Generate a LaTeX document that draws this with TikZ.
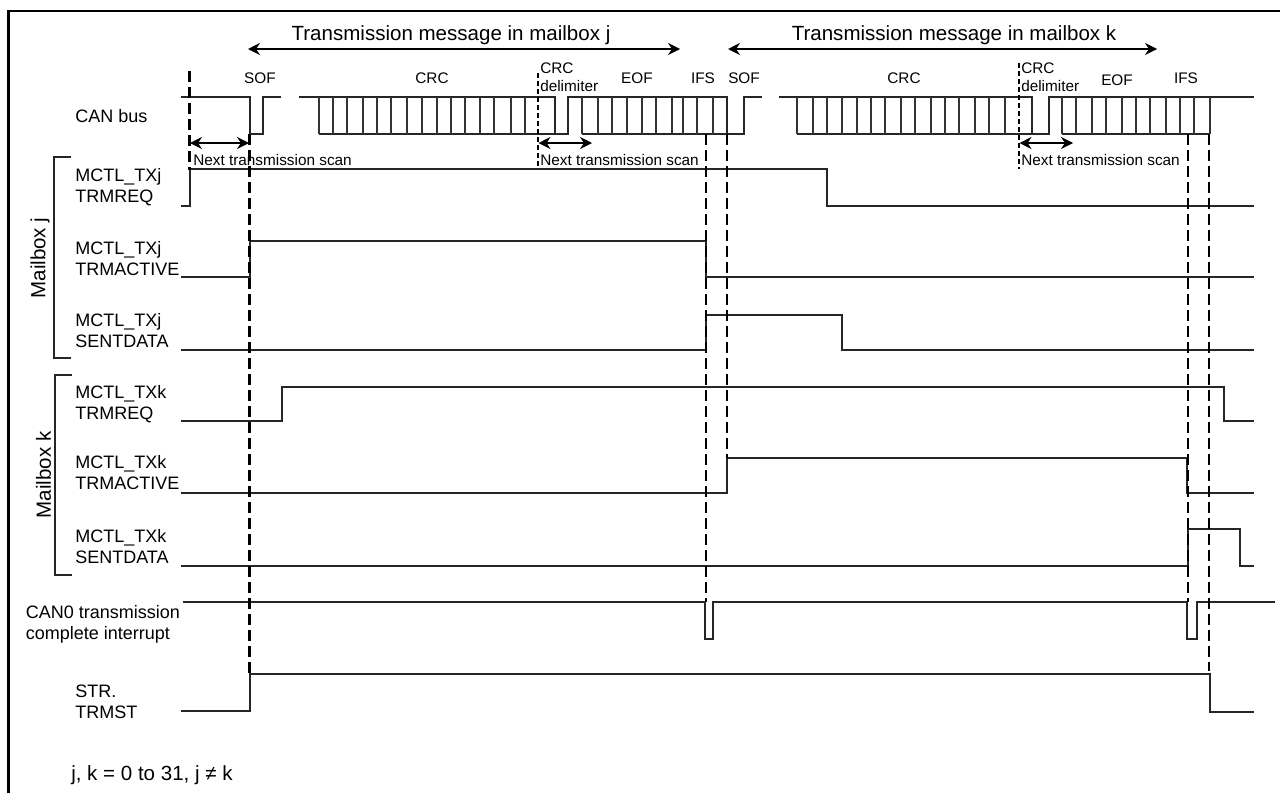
\documentclass[tikz,border=0pt]{standalone}
\usepackage{fontspec}
\setmainfont{Liberation Sans}
\usetikzlibrary{arrows.meta}
\tikzset{
  sig/.style={line width=1pt,black!85,line join=miter},
  tick/.style={line width=0.9pt,black!80},
  guide/.style={line width=1.8pt,black,dash pattern=on 8.2pt off 3.8pt},
  thinguide/.style={line width=0.8pt,black,dash pattern=on 4pt off 2pt},
  span/.style={line width=0.9pt,black,{Stealth[length=9pt,width=9pt]}-{Stealth[length=9pt,width=9pt]}},
  lab/.style={font=\fontsize{13.5pt}{15.75pt}\selectfont,align=left,anchor=west,inner sep=0pt},
  small/.style={font=\fontsize{11.5pt}{13.4pt}\selectfont,anchor=center,inner sep=0pt},
  head/.style={font=\fontsize{15.4pt}{18pt}\selectfont,anchor=center,inner sep=0pt},
  big/.style={font=\fontsize{15.4pt}{18pt}\selectfont,anchor=west,inner sep=0pt},
  frameline/.style={line width=2.1pt,black},
  bracket/.style={line width=0.9pt,black!85}
}
\begin{document}
\begin{tikzpicture}[x=0.75pt,y=-0.75pt]
\useasboundingbox (0,0) rectangle (1280,793);
\fill[white] (0,0) rectangle (1280,793);
\draw[frameline] (8.7,793) -- (8.7,11) -- (1280,11);

% span arrows
\coordinate (ta1) at (248,49); \coordinate (tb1) at (680,49);
\coordinate (ta2) at (728,49); \coordinate (tb2) at (1157,49);
\draw[span] (ta1) -- (tb1);
\draw[span] (ta2) -- (tb2);
\node[head] (hj) at (451,35) {Transmission message in mailbox j};
\node[head] (hk) at (954,35) {Transmission message in mailbox k};

% CAN bus
\draw[sig] (181,97) -- (250,97) -- (250,134) -- (263,134) -- (263,97) -- (281,97);
\draw[sig] (299,97) -- (555,97) -- (555,134) -- (568,134) -- (568,97) -- (727,97) -- (727,134) -- (744,134) -- (744,97) -- (762,97);
\draw[sig] (779,97) -- (1032,97) -- (1032,134) -- (1049,134) -- (1049,97) -- (1254,97);
\draw[sig] (319,134) -- (555,134);
\draw[sig] (582,134) -- (727,134);
\draw[sig] (797,134) -- (1032,134);
\draw[sig] (1062,134) -- (1210,134);
\foreach \x in {319,333,347,363,377,391,407,422,437,451,465,480,494,511,525,582,598,612,627,642,656,672,683,697,713,797,813,827,842,857,871,885,901,915,931,945,959,975,989,1005,1062,1076,1092,1106,1122,1136,1150,1166,1180,1194,1210}
  \draw[tick] (\x,97) -- (\x,134);

% signals
\draw[sig] (181,206) -- (190,206) -- (190,169) -- (827,169) -- (827,206) -- (1254,206);
\draw[sig] (181,277) -- (250,277) -- (250,241) -- (706,241) -- (706,277) -- (1254,277);
\draw[sig] (181,350) -- (706,350) -- (706,315) -- (842,315) -- (842,350) -- (1254,350);
\draw[sig] (181,421) -- (282,421) -- (282,387) -- (1224,387) -- (1224,421) -- (1254,421);
\draw[sig] (181,493) -- (727,493) -- (727,458) -- (1187,458) -- (1187,493) -- (1254,493);
\draw[sig] (181,566) -- (1188,566) -- (1188,529) -- (1240,529) -- (1240,566) -- (1254,566);
\draw[sig] (183,602) -- (705,602) -- (705,639) -- (713,639) -- (713,602) -- (1187,602) -- (1187,639) -- (1197,639) -- (1197,602) -- (1275,602);
\draw[sig] (181,711) -- (250,711) -- (250,674) -- (1210,674) -- (1210,712) -- (1254,712);

% guides
\draw[guide] (189.5,71) -- (189.5,170);
\draw[guide] (249.5,134) -- (249.5,673);
\draw[guide] (706,134) -- (706,602);
\draw[guide] (727,134) -- (727,458);
\draw[guide] (1188,134) -- (1188,602);
\draw[guide] (1209,134) -- (1209,671);
\draw[thinguide] (538,73) -- (538,169);
\draw[thinguide] (1019,63) -- (1019,169);

% scan arrows
\coordinate (sa1) at (190,143); \coordinate (sb1) at (249,143);
\coordinate (sa2) at (538.5,143); \coordinate (sb2) at (592,143);
\coordinate (sa3) at (1019.5,143); \coordinate (sb3) at (1073,143);
\draw[span] (sa1) -- (sb1);
\draw[span] (sa2) -- (sb2);
\draw[span] (sa3) -- (sb3);
\node[small,anchor=west] (n1) at (193,160) {Next transmission scan};
\node[small,anchor=west] (n2) at (540,160) {Next transmission scan};
\node[small,anchor=west] (n3) at (1021,160) {Next transmission scan};

% field labels
\node[small] (s1) at (260,78) {SOF};
\node[small] (c1) at (432,78) {CRC};
\node[small] (e1) at (637,78) {EOF};
\node[small] (i1) at (703,78) {IFS};
\node[small] (s2) at (744,78) {SOF};
\node[small] (c2) at (904,78) {CRC};
\node[small] (e2) at (1117,80) {EOF};
\node[small] (i2) at (1186,78) {IFS};
\node[small,anchor=west,align=left] (d1) at (540,77) {CRC\\delimiter};
\node[small,anchor=west,align=left] (d2) at (1021,77) {CRC\\delimiter};

% signal labels
\node[lab] (l0) at (75,116) {CAN bus};
\node[lab] (l1) at (75,187.2) {MCTL\_TXj\\TRMREQ};
\node[lab] (l2) at (75,258.2) {MCTL\_TXj\\TRMACTIVE};
\node[lab] (l3) at (75,330.7) {MCTL\_TXj\\SENTDATA};
\node[lab] (l4) at (75,404.2) {MCTL\_TXk\\TRMREQ};
\node[lab] (l5) at (75,472.2) {MCTL\_TXk\\TRMACTIVE};
\node[lab] (l6) at (75,546.2) {MCTL\_TXk\\SENTDATA};
\node[lab] (l7) at (25.5,624.7) {CAN0 transmission\\complete interrupt};
\node[lab] (l8) at (75,702.2) {STR.\\TRMST};
\node[big] (fn) at (71,775) {j, k = 0 to 31, j ≠ k};

% mailbox brackets
\draw[bracket] (71,157) -- (54,157) -- (54,358) -- (71,358);
\draw[bracket] (72,375) -- (55,375) -- (55,575) -- (72,575);
\node[big,anchor=center,rotate=90] (mj) at (40,258) {Mailbox j};
\node[big,anchor=center,rotate=90] (mk) at (43.5,475) {Mailbox k};
\end{tikzpicture}
\end{document}
